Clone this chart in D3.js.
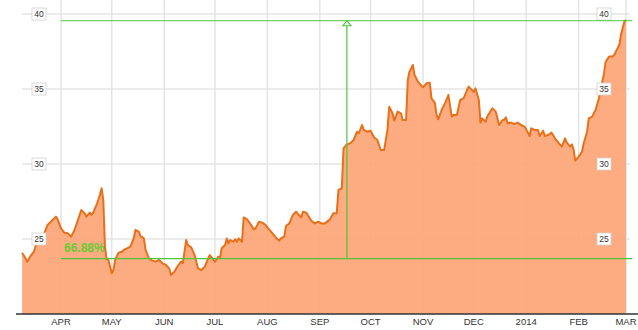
<!DOCTYPE html>
<html>
<head>
<meta charset="utf-8">
<script src="https://cdn.jsdelivr.net/npm/d3@7"></script>
<style>
  html, body { margin: 0; padding: 0; background: #fff; }
  svg { display: block; }
</style>
</head>
<body>
<div id="chart"></div>
<script>
// daily closes
const dates = [
  "2013-03-09","2013-03-11","2013-03-12","2013-03-14","2013-03-16","2013-03-17","2013-03-19","2013-03-21",
  "2013-03-24","2013-03-26","2013-03-29","2013-03-30","2013-04-01","2013-04-03","2013-04-05","2013-04-07",
  "2013-04-09","2013-04-11","2013-04-13","2013-04-15","2013-04-16","2013-04-18","2013-04-19","2013-04-20",
  "2013-04-22","2013-04-24","2013-04-25","2013-04-26","2013-04-27","2013-04-28","2013-04-29","2013-05-01",
  "2013-05-02","2013-05-03","2013-05-05","2013-05-07","2013-05-08","2013-05-10","2013-05-12","2013-05-14",
  "2013-05-15","2013-05-17","2013-05-18","2013-05-20","2013-05-21","2013-05-23","2013-05-25","2013-05-27",
  "2013-05-29","2013-05-31","2013-06-02","2013-06-04","2013-06-05","2013-06-07","2013-06-09","2013-06-11",
  "2013-06-12","2013-06-14","2013-06-15","2013-06-17","2013-06-19","2013-06-21","2013-06-23","2013-06-25",
  "2013-06-27","2013-06-28","2013-06-29","2013-07-01","2013-07-03","2013-07-04","2013-07-05","2013-07-07",
  "2013-07-08","2013-07-09","2013-07-10","2013-07-12","2013-07-13","2013-07-14","2013-07-15","2013-07-17",
  "2013-07-18","2013-07-20","2013-07-22","2013-07-24","2013-07-25","2013-07-27","2013-07-29","2013-07-31",
  "2013-08-02","2013-08-04","2013-08-07","2013-08-08","2013-08-09","2013-08-11","2013-08-12","2013-08-14",
  "2013-08-16","2013-08-18","2013-08-19","2013-08-21","2013-08-22","2013-08-24","2013-08-26","2013-08-27",
  "2013-08-29","2013-08-31","2013-09-02","2013-09-04","2013-09-07","2013-09-09","2013-09-11","2013-09-12",
  "2013-09-14","2013-09-15","2013-09-17","2013-09-19","2013-09-21","2013-09-23","2013-09-24","2013-09-26",
  "2013-09-27","2013-09-29","2013-10-01","2013-10-03","2013-10-05","2013-10-06","2013-10-07","2013-10-09",
  "2013-10-11","2013-10-12","2013-10-14","2013-10-15","2013-10-17","2013-10-19","2013-10-20","2013-10-22",
  "2013-10-23","2013-10-24","2013-10-26","2013-10-27","2013-10-29","2013-11-01","2013-11-03","2013-11-05",
  "2013-11-06","2013-11-08","2013-11-09","2013-11-10","2013-11-12","2013-11-14","2013-11-16","2013-11-18",
  "2013-11-19","2013-11-21","2013-11-23","2013-11-25","2013-11-27","2013-11-28","2013-11-29","2013-12-01",
  "2013-12-02","2013-12-04","2013-12-05","2013-12-06","2013-12-08","2013-12-09","2013-12-12","2013-12-14",
  "2013-12-16","2013-12-18","2013-12-19","2013-12-20","2013-12-21","2013-12-23","2013-12-25","2013-12-27",
  "2013-12-29","2013-12-31","2014-01-01","2014-01-03","2014-01-04","2014-01-06","2014-01-08","2014-01-09",
  "2014-01-11","2014-01-12","2014-01-14","2014-01-16","2014-01-18","2014-01-20","2014-01-22","2014-01-24",
  "2014-01-25","2014-01-27","2014-01-28","2014-01-29","2014-01-30","2014-02-01","2014-02-03","2014-02-04",
  "2014-02-06","2014-02-07","2014-02-09","2014-02-11","2014-02-13","2014-02-14","2014-02-16","2014-02-17",
  "2014-02-19","2014-02-21","2014-02-22","2014-02-23","2014-02-25","2014-02-26","2014-02-28","2014-03-01"
];
const closes = [
  24.09,23.71,23.49,23.87,24.15,24.53,24.82,25.04,
  25.93,26.15,26.49,26.31,25.71,25.42,25.38,25.16,
  25.60,26.27,26.93,26.71,26.49,26.76,26.60,26.76,
  27.27,27.93,28.38,27.60,24.49,23.64,23.60,22.71,
  22.93,23.60,24.09,24.15,24.27,24.38,24.49,25.04,
  25.60,25.49,25.20,25.04,24.27,23.71,23.56,23.49,
  23.60,23.38,23.27,23.04,22.60,22.82,23.20,23.49,
  23.38,24.93,24.60,24.44,23.93,23.04,22.93,23.16,
  23.71,23.93,23.78,23.49,23.82,23.76,24.38,24.60,
  25.04,24.71,24.93,24.82,24.98,24.82,25.04,24.82,
  26.44,26.31,26.00,25.64,25.71,26.15,26.09,25.93,
  25.64,25.38,24.98,24.89,25.04,25.16,25.87,26.04,
  26.60,26.82,26.67,26.44,26.82,26.76,26.38,26.22,
  26.04,26.15,26.04,26.04,26.31,26.71,26.71,28.27,
  28.38,31.04,31.31,31.38,31.60,32.15,32.04,32.60,
  32.27,32.15,32.22,31.78,31.60,31.27,30.93,30.93,
  32.27,33.82,33.38,32.89,33.49,33.38,32.93,32.93,
  35.60,36.15,36.60,35.93,35.49,35.11,35.38,35.42,
  34.38,34.09,33.27,32.98,33.60,34.04,34.60,33.16,
  33.27,33.27,34.27,34.38,34.93,35.16,35.04,34.82,
  35.04,34.27,32.76,33.04,32.82,33.16,33.71,33.49,
  32.60,32.93,32.93,33.11,32.71,32.76,32.67,32.76,
  32.60,32.49,32.31,31.87,32.38,32.27,32.27,31.87,
  32.22,31.87,31.93,32.09,31.71,31.42,31.16,31.71,
  31.42,31.16,31.31,30.98,30.22,30.49,30.82,31.38,
  32.15,33.04,33.16,33.60,34.38,34.93,36.04,36.82,
  37.16,37.16,37.27,37.49,37.93,38.60,39.49,39.60
];
const yTicks = [25, 30, 35, 40];
// change annotation: low close, high close, date of the arrow
const changeFrom = { date: "2013-04-01", value: 23.69 };
const changeTo = { date: "2013-09-17", value: 39.55 };
const changeLabel = "66.88%";

const width = 638, height = 330;
const parse = d3.timeParse("%Y-%m-%d");
const data = dates.map((d, i) => ({ date: parse(d), close: closes[i] }));

const svg = d3.select("#chart").append("svg")
  .attr("width", width)
  .attr("height", height)
  .style("font-family", "Arial, 'Liberation Sans', sans-serif");

const x = d3.scaleTime()
  .domain([new Date(2013, 3, 1), new Date(2014, 2, 1)])
  .range([61, 626]);
const y = d3.scaleLinear().domain([20, 40]).range([314, 14]);

const gridLeft = 22, gridRight = 630;
const months = x.ticks(d3.timeMonth.every(1));

// grid
svg.append("g")
  .attr("stroke", "#e4e4e4")
  .attr("stroke-width", 1.5)
  .selectAll("line.v")
  .data(months)
  .join("line")
  .attr("x1", d => x(d)).attr("x2", d => x(d))
  .attr("y1", 0).attr("y2", y(20));

svg.append("g")
  .attr("stroke", "#e4e4e4")
  .attr("stroke-width", 1.5)
  .selectAll("line")
  .data(yTicks)
  .join("line")
  .attr("x1", gridLeft).attr("x2", gridRight)
  .attr("y1", d => y(d)).attr("y2", d => y(d));

// area + line
const area = d3.area().x(d => x(d.date)).y0(y(20)).y1(d => y(d.close));
const line = d3.line().x(d => x(d.date)).y(d => y(d.close));

svg.append("path")
  .datum(data)
  .attr("d", area)
  .attr("fill", "#fca676")
  .attr("fill-opacity", 0.93);

svg.append("path")
  .datum(data)
  .attr("d", line)
  .attr("fill", "none")
  .attr("stroke", "#e8701a")
  .attr("stroke-width", 2)
  .attr("stroke-linejoin", "round");

// bottom axis
svg.append("line")
  .attr("x1", 16).attr("x2", width)
  .attr("y1", y(20)).attr("y2", y(20))
  .attr("stroke", "#333")
  .attr("stroke-width", 1.5);

const fmtMonth = d3.timeFormat("%b");
svg.append("g")
  .selectAll("text")
  .data(months)
  .join("text")
  .attr("x", d => x(d))
  .attr("y", 325)
  .attr("text-anchor", "middle")
  .attr("font-size", 9.5)
  .attr("fill", "#333")
  .text(d => d.getMonth() === 0 ? d.getFullYear() : fmtMonth(d).toUpperCase());

// y labels, boxed, on both sides
[39, 604].forEach(cx => {
  const g = svg.append("g").selectAll("g")
    .data(yTicks)
    .join("g")
    .attr("transform", d => `translate(${cx},${y(d)})`);
  g.append("rect")
    .attr("x", -7).attr("y", -6)
    .attr("width", 14).attr("height", 12)
    .attr("fill", "#fff")
    .attr("stroke", "#d0d0d0")
    .attr("stroke-width", 0.8);
  g.append("text")
    .attr("text-anchor", "middle")
    .attr("dy", "0.35em")
    .attr("font-size", 8.5)
    .attr("fill", "#333")
    .text(d => d);
});

// change annotation
const green = "#4cc53a";
const ax0 = x(parse(changeFrom.date));
const axArrow = x(parse(changeTo.date));
const yLow = y(changeFrom.value), yHigh = y(changeTo.value);

const ann = svg.append("g").attr("stroke", green).attr("stroke-width", 1.2).attr("fill", "none");
ann.append("line").attr("x1", ax0).attr("x2", 632).attr("y1", yLow).attr("y2", yLow);
ann.append("line").attr("x1", ax0).attr("x2", 632).attr("y1", yHigh).attr("y2", yHigh);
ann.append("line").attr("x1", axArrow).attr("x2", axArrow).attr("y1", yLow).attr("y2", yHigh);
ann.append("path")
  .attr("d", `M${axArrow},${yHigh} L${axArrow - 4},${yHigh + 5} L${axArrow + 4},${yHigh + 5} Z`)
  .attr("fill", "#fff");

svg.append("text")
  .attr("x", ax0 + 3)
  .attr("y", yLow - 7)
  .attr("font-size", 12)
  .attr("font-weight", "bold")
  .attr("fill", "#66cc33")
  .text(changeLabel);
</script>
</body>
</html>
